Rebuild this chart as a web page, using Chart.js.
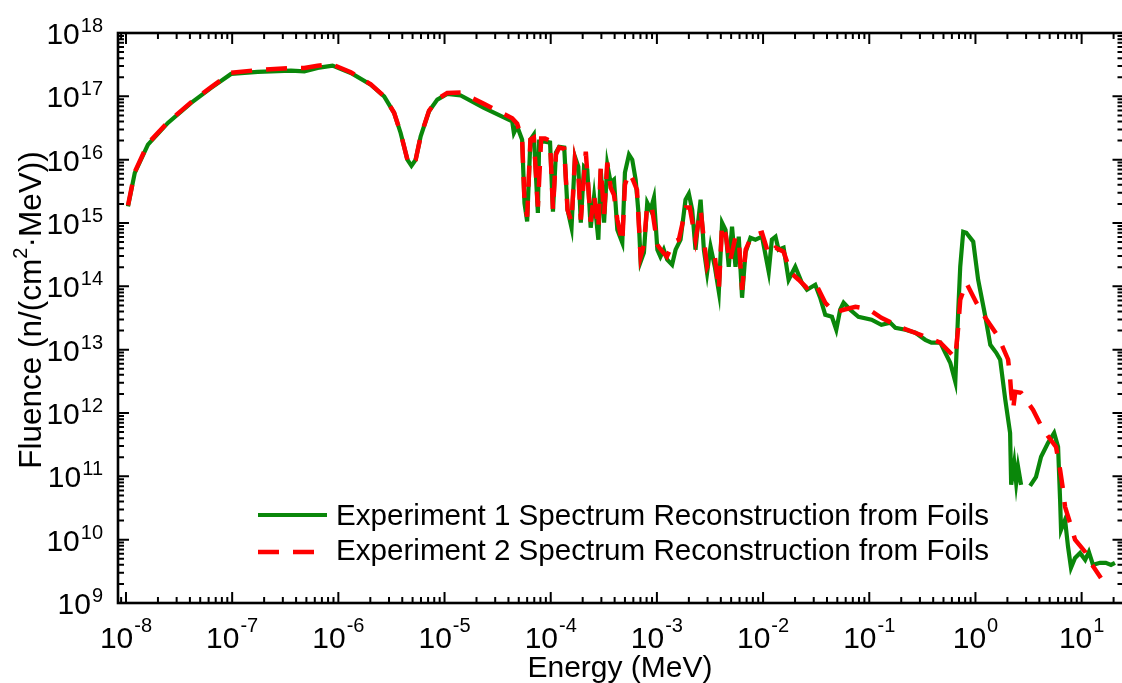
<!DOCTYPE html>
<html>
<head>
<meta charset="utf-8">
<title>Neutron spectrum reconstruction</title>
<script src="https://cdn.jsdelivr.net/npm/chart.js@4.4.0/dist/chart.umd.min.js"></script>
<style>
  html, body { margin: 0; padding: 0; background: #ffffff; }
  #wrap { width: 1122px; height: 683px; position: relative; }
</style>
</head>
<body>
<div id="wrap"><canvas id="chart" width="1122" height="683"></canvas></div>
<script>
// Experiment 1: energy (MeV) and fluence (n/(cm^2 MeV))
const energy1 = [
  1.045e-8, 1.21e-8, 1.61e-8, 2.48e-8, 4.11e-8, 6.34e-8, 9.77e-8, 1.74e-7, 3.58e-7, 4.78e-7,
  6.38e-7, 8.81e-7, 1.31e-6, 2.02e-6, 2.70e-6, 3.35e-6, 3.86e-6, 4.47e-6, 4.88e-6, 5.35e-6,
  5.96e-6, 7.14e-6, 8.55e-6, 1.06e-5, 1.42e-5, 2.35e-5, 4.34e-5, 4.50e-5, 4.83e-5, 5.38e-5,
  5.66e-5, 6.0e-5, 6.44e-5, 6.93e-5, 7.57e-5, 7.78e-5, 8.85e-5, 9.86e-5, 1.05e-4, 1.12e-4,
  1.20e-4, 1.34e-4, 1.44e-4, 1.57e-4, 1.69e-4, 1.82e-4, 1.92e-4, 2.06e-4, 2.21e-4, 2.38e-4,
  2.56e-4, 2.81e-4, 2.96e-4, 3.18e-4, 3.41e-4, 3.67e-4, 3.94e-4, 4.24e-4, 4.72e-4, 5.0e-4,
  5.46e-4, 5.86e-4, 6.31e-4, 6.67e-4, 7.03e-4, 7.55e-4, 8.11e-4, 8.73e-4, 9.38e-4, 1.01e-3,
  1.08e-3, 1.16e-3, 1.25e-3, 1.39e-3, 1.50e-3, 1.67e-3, 1.86e-3, 2.0e-3, 2.15e-3, 2.31e-3,
  2.44e-3, 2.58e-3, 2.77e-3, 2.97e-3, 3.20e-3, 3.51e-3, 3.83e-3, 4.11e-3, 4.43e-3, 4.75e-3,
  5.10e-3, 5.50e-3, 5.90e-3, 6.34e-3, 6.83e-3, 7.60e-3, 8.47e-3, 9.77e-3, 1.13e-2, 1.21e-2,
  1.31e-2, 1.40e-2, 1.56e-2, 1.74e-2, 2.01e-2, 2.32e-2, 2.59e-2, 3.10e-2, 3.45e-2, 3.85e-2,
  4.45e-2, 4.89e-2, 5.32e-2, 5.73e-2, 6.61e-2, 7.91e-2, 1.05e-1, 1.30e-1, 1.58e-1, 1.76e-1,
  2.19e-1, 2.72e-1, 3.37e-1, 3.85e-1, 4.67e-1, 5.20e-1, 5.79e-1, 6.46e-1, 6.89e-1, 7.19e-1,
  7.67e-1, 8.20e-1, 9.53e-1, 1.06, 1.24, 1.38, 1.57, 1.71, 1.91, 2.12,
  2.17, 2.32, 2.42, 2.52, 2.69, 2.95, 3.27, 3.72, 4.15, 4.83,
  5.51, 6.0, 6.27, 6.40, 6.98, 7.45, 7.94, 8.67, 9.66, 10.8,
  11.7, 12.8, 14.9, 16.9, 18.9, 20.6
];
const fluence1 = [
  1.83e15, 6.2e15, 1.73e16, 3.8e16, 7.87e16, 1.36e17, 2.26e17, 2.43e17, 2.55e17, 2.48e17,
  2.81e17, 3.05e17, 2.34e17, 1.53e17, 1.0e17, 5.47e16, 2.64e16, 1.0e16, 8.0e15, 1.0e16,
  2.33e16, 5.8e16, 8.87e16, 1.09e17, 1.03e17, 6.56e16, 4.03e16, 2.64e16, 3.36e16, 2.07e16,
  2.07e15, 1.06e15, 2.07e16, 2.48e16, 1.44e15, 1.92e16, 1.92e16, 1.86e16, 1.51e15, 1.29e16,
  1.60e16, 1.55e16, 1.62e15, 8.43e14, 1.11e16, 7.75e15, 1.01e15, 7.75e15, 6.95e15, 8.43e14,
  2.60e15, 5.45e14, 6.95e15, 1.01e15, 8.34e15, 4.34e15, 4.83e15, 7.83e14, 4.89e14, 6.24e15,
  1.20e16, 1.0e16, 4.83e15, 1.62e15, 2.45e14, 3.40e14, 2.09e15, 1.62e15, 2.51e15, 3.79e14,
  2.94e14, 3.79e14, 2.63e14, 2.19e14, 3.79e14, 5.45e14, 2.33e15, 2.90e15, 1.62e15, 3.79e14,
  1.01e15, 2.33e15, 3.79e14, 1.64e14, 4.23e14, 2.04e14, 8.22e13, 1.01e15, 7.83e14, 2.04e14,
  8.75e14, 2.04e14, 6.08e14, 6.61e13, 3.40e14, 5.86e14, 5.45e14, 6.08e14, 1.70e14, 5.45e14,
  6.08e14, 3.79e14, 4.07e14, 1.27e14, 2.04e14, 1.14e14, 8.83e13, 1.06e14, 6.61e13, 3.56e13,
  3.31e13, 2.06e13, 4.27e13, 5.51e13, 4.27e13, 3.31e13, 2.97e13, 2.47e13, 2.66e13, 2.22e13,
  2.06e13, 1.85e13, 1.43e13, 1.29e13, 1.29e13, 8.93e12, 6.21e12, 3.11e12, 4.27e13, 2.04e14,
  7.29e14, 7.03e14, 5.07e14, 1.27e14, 3.31e13, 1.19e13, 8.93e12, 6.92e12, 1.62e12, 4.86e11,
  7.35e10, 1.63e11, 7.89e10, 1.41e11, 7.35e10, null, 7.08e10, 9.82e10, 2.03e11, 3.38e11,
  4.86e11, 2.92e11, 4.26e10, 1.43e10, 2.06e10, 7.69e9, 3.59e9, 5.15e9, 6.18e9, 4.80e9,
  6.41e9, 4.0e9, 4.31e9, 4.31e9, 4.0e9, 4.31e9
];

// Experiment 2: energy (MeV) and fluence (n/(cm^2 MeV))
const energy2 = [
  1.045e-8, 1.21e-8, 1.61e-8, 2.48e-8, 4.11e-8, 6.34e-8, 9.77e-8, 1.74e-7, 3.58e-7, 4.78e-7,
  6.38e-7, 8.5e-7, 1.31e-6, 2.02e-6, 2.70e-6, 3.35e-6, 3.86e-6, 4.47e-6, 4.88e-6, 5.35e-6,
  5.96e-6, 7.14e-6, 8.55e-6, 1.06e-5, 1.42e-5, 2.35e-5, 4.34e-5, 4.83e-5, 5.38e-5, 5.66e-5,
  6.0e-5, 6.44e-5, 6.93e-5, 7.57e-5, 8.13e-5, 8.85e-5, 9.86e-5, 1.05e-4, 1.12e-4, 1.20e-4,
  1.34e-4, 1.44e-4, 1.57e-4, 1.69e-4, 1.82e-4, 1.92e-4, 2.14e-4, 2.38e-4, 2.56e-4, 2.81e-4,
  2.96e-4, 3.18e-4, 3.41e-4, 3.67e-4, 3.94e-4, 4.24e-4, 4.72e-4, 5.0e-4, 5.46e-4, 5.94e-4,
  6.49e-4, 7.03e-4, 7.55e-4, 8.11e-4, 8.97e-4, 1.01e-3, 1.09e-3, 1.24e-3, 1.45e-3, 1.61e-3,
  1.88e-3, 2.04e-3, 2.31e-3, 2.58e-3, 2.77e-3, 2.97e-3, 3.29e-3, 3.51e-3, 3.83e-3, 4.11e-3,
  4.45e-3, 4.85e-3, 5.50e-3, 5.90e-3, 6.34e-3, 6.86e-3, 7.82e-3, 9.77e-3, 1.13e-2, 1.31e-2,
  1.56e-2, 1.82e-2, 2.16e-2, 2.57e-2, 3.10e-2, 3.85e-2, 4.71e-2, 5.73e-2, 7.41e-2, 9.82e-2,
  1.30e-1, 2.01e-1, 3.03e-1, 4.67e-1, 6.46e-1, 6.89e-1, 7.19e-1, 8.20e-1, 1.02, 1.24,
  1.64, 2.03, 2.12, 2.17, 2.26, 2.37, 2.69, 3.49, 4.34, 5.74,
  6.27, 6.68, 6.98, 7.78, 8.67, 10.8, 12.2, 15.2
];
const fluence2 = [
  1.9e15, 6.4e15, 1.8e16, 3.9e16, 8.1e16, 1.40e17, 2.35e17, 2.6e17, 2.8e17, 2.8e17,
  3.05e17, 3.25e17, 2.4e17, 1.55e17, 1.0e17, 5.5e16, 2.65e16, 1.0e16, 8.0e15, 1.0e16,
  2.35e16, 5.9e16, 9.0e16, 1.13e17, 1.15e17, 7.6e16, 4.5e16, 3.7e16, 2.07e16, 2.33e15,
  1.26e15, 2.07e16, 2.23e16, 1.81e15, 2.15e16, 2.15e16, 2.0e16, 1.62e15, 1.20e16, 1.55e16,
  1.49e16, 1.62e15, 1.05e15, 1.0e16, 5.8e15, 1.13e15, 1.34e16, 1.05e15, 2.80e15, 8.13e14,
  7.48e15, 1.35e15, 8.97e15, 3.61e15, 2.80e15, 1.13e15, 4.89e14, 4.03e15, 6.24e15, 4.83e15,
  3.36e15, 2.94e14, 4.54e14, 1.94e15, 1.75e15, 4.54e14, 3.79e14, 2.94e14, 5.07e14, 5.45e14,
  1.75e15, 1.75e15, 5.45e14, 1.62e15, 5.45e14, 2.04e14, 2.94e14, 2.94e14, 8.83e13, 9.4e14,
  6.53e14, 2.36e14, 6.08e14, 5.45e14, 8.83e13, 3.79e14, 6.30e14, 7.03e14, 3.16e14, 4.07e14,
  3.52e14, 1.64e14, 1.27e14, 9.51e13, 1.14e14, 5.51e13, 3.83e13, 4.27e13, 4.76e13, 4.38e13,
  3.19e13, 2.22e13, 1.72e13, 1.29e13, 7.45e12, 2.30e13, 6.14e13, 1.14e14, 5.51e13, 3.19e13,
  1.60e13, 7.0e12, 3.58e12, 2.08e12, 1.12e12, 2.16e12, 2.08e12, 1.12e12, 5.43e11, 2.92e11,
  1.27e11, 6.12e10, 3.30e10, 1.84e10, 1.0e10, 6.41e9, 4.31e9, 2.49e9
];

// Axis decades and text
const xTickExponents = [-8, -7, -6, -5, -4, -3, -2, -1, 0, 1];
const yTickExponents = [9, 10, 11, 12, 13, 14, 15, 16, 17, 18];
const seriesLabels = [
  'Experiment 1 Spectrum Reconstruction from Foils',
  'Experiment 2 Spectrum Reconstruction from Foils'
];
const xAxisTitle = 'Energy (MeV)';
const yAxisTitleParts = ['Fluence (n/(cm', '2', '\u00B7MeV))'];

const GREEN = '#0a870a';
const RED = '#ff0000';
const FONT = '"Liberation Sans", Arial, Helvetica, sans-serif';

function toPoints(xs, ys) {
  return xs.map((x, i) => ({ x: x, y: ys[i] }));
}

// Axes frame, inward ticks, superscript tick labels, titles and legend
const framePlugin = {
  id: 'frame',
  afterDraw(chart) {
    const ctx = chart.ctx;
    const area = chart.chartArea;
    const xs = chart.scales.x;
    const ys = chart.scales.y;
    const L = area.left, T = area.top, B = area.bottom;
    // the right spine sits just past the canvas edge; only its ticks show
    const R = Math.max(area.right, chart.width + 1.5);
    ctx.save();
    ctx.strokeStyle = '#000';
    ctx.fillStyle = '#000';

    // tick marks
    ctx.lineWidth = 2;
    const majorLen = 11, minorLen = 6;
    ctx.beginPath();
    for (let e = -9; e <= 2; e++) {
      for (let m = 1; m <= 9; m++) {
        const v = m * Math.pow(10, e);
        const px = xs.getPixelForValue(v);
        if (px < L + 1 || px > R - 1) continue;
        const len = m === 1 ? majorLen : minorLen;
        ctx.moveTo(px, B); ctx.lineTo(px, B - len);
        ctx.moveTo(px, T); ctx.lineTo(px, T + len);
      }
    }
    for (let e = 9; e <= 18; e++) {
      for (let m = 1; m <= 9; m++) {
        const v = m * Math.pow(10, e);
        if (v > 1.0001e18) continue;
        const py = ys.getPixelForValue(v);
        const len = m === 1 ? majorLen : minorLen;
        ctx.moveTo(L, py); ctx.lineTo(L + len, py);
        ctx.moveTo(R, py); ctx.lineTo(R - len, py);
      }
    }
    ctx.stroke();

    // spines
    ctx.lineWidth = 2.6;
    ctx.strokeRect(L, T, R - L, B - T);

    // x tick labels
    const baseFont = '30px ' + FONT;
    const supFont = '20px ' + FONT;
    xTickExponents.forEach(e => {
      const px = xs.getPixelForValue(Math.pow(10, e));
      ctx.font = baseFont;
      const w1 = ctx.measureText('10').width;
      ctx.font = supFont;
      const w2 = ctx.measureText(String(e)).width;
      const x0 = px - (w1 + w2 + 1) / 2;
      ctx.textAlign = 'left';
      ctx.textBaseline = 'alphabetic';
      ctx.font = baseFont;
      ctx.fillText('10', x0, 648);
      ctx.font = supFont;
      ctx.fillText(String(e), x0 + w1 + 1, 632);
    });

    // y tick labels
    yTickExponents.forEach(e => {
      const py = ys.getPixelForValue(Math.pow(10, e));
      ctx.font = supFont;
      const w2 = ctx.measureText(String(e)).width;
      ctx.font = baseFont;
      const w1 = ctx.measureText('10').width;
      const xr = 103;
      ctx.textAlign = 'left';
      ctx.textBaseline = 'alphabetic';
      ctx.fillText('10', xr - w2 - 1 - w1, py + 11);
      ctx.font = supFont;
      ctx.fillText(String(e), xr - w2, py - 1);
    });

    // x axis title
    ctx.font = '30px ' + FONT;
    ctx.textAlign = 'center';
    ctx.fillText(xAxisTitle, (L + area.right) / 2, 677);

    // y axis title (rotated, with superscript)
    ctx.save();
    ctx.translate(41, 310);
    ctx.rotate(-Math.PI / 2);
    const tFont = '31.5px ' + FONT, tSup = '20px ' + FONT;
    ctx.font = tFont;
    const a = ctx.measureText(yAxisTitleParts[0]).width;
    const c = ctx.measureText(yAxisTitleParts[2]).width;
    ctx.font = tSup;
    const b = ctx.measureText(yAxisTitleParts[1]).width;
    let tx = -(a + b + c) / 2;
    ctx.textAlign = 'left';
    ctx.font = tFont;
    ctx.fillText(yAxisTitleParts[0], tx, 0);
    ctx.font = tSup;
    ctx.fillText(yAxisTitleParts[1], tx + a, -14);
    ctx.font = tFont;
    ctx.fillText(yAxisTitleParts[2], tx + a + b, 0);
    ctx.restore();

    // legend
    const ds = chart.data.datasets;
    const rows = [
      { set: ds[1], lineY: 515, textY: 525 },
      { set: ds[0], lineY: 552, textY: 560 }
    ];
    ctx.font = '29.6px ' + FONT;
    ctx.textAlign = 'left';
    rows.forEach(r => {
      ctx.save();
      ctx.strokeStyle = r.set.borderColor;
      ctx.lineWidth = r.set.borderWidth;
      ctx.setLineDash(r.set.borderDash || []);
      ctx.beginPath();
      ctx.moveTo(258, r.lineY);
      ctx.lineTo(327, r.lineY);
      ctx.stroke();
      ctx.restore();
      ctx.fillStyle = '#000';
      ctx.fillText(r.set.label, 336, r.textY);
    });
    ctx.restore();
  }
};

const chart = new Chart(document.getElementById('chart'), {
  type: 'line',
  data: {
    datasets: [
      {
        label: seriesLabels[1],
        data: toPoints(energy2, fluence2),
        borderColor: RED,
        borderWidth: 4.5,
        borderDash: [21, 14],
        pointRadius: 0,
        tension: 0,
        fill: false,
        order: 1
      },
      {
        label: seriesLabels[0],
        data: toPoints(energy1, fluence1),
        borderColor: GREEN,
        borderWidth: 4.2,
        pointRadius: 0,
        tension: 0,
        spanGaps: false,
        fill: false,
        order: 2
      }
    ]
  },
  options: {
    responsive: false,
    animation: false,
    devicePixelRatio: 1,
    layout: { padding: { left: 118, right: -2, top: 33, bottom: 80 } },
    plugins: { legend: { display: false }, tooltip: { enabled: false } },
    scales: {
      x: {
        type: 'logarithmic',
        bounds: 'data',
        min: 8.41e-9,
        max: 24.0,
        ticks: { display: false },
        grid: { display: false, drawTicks: false },
        border: { display: false },
        title: { display: false }
      },
      y: {
        type: 'logarithmic',
        bounds: 'data',
        min: 1e9,
        max: 1e18,
        ticks: { display: false },
        grid: { display: false, drawTicks: false },
        border: { display: false },
        title: { display: false }
      }
    }
  },
  plugins: [framePlugin]
});
</script>
</body>
</html>
